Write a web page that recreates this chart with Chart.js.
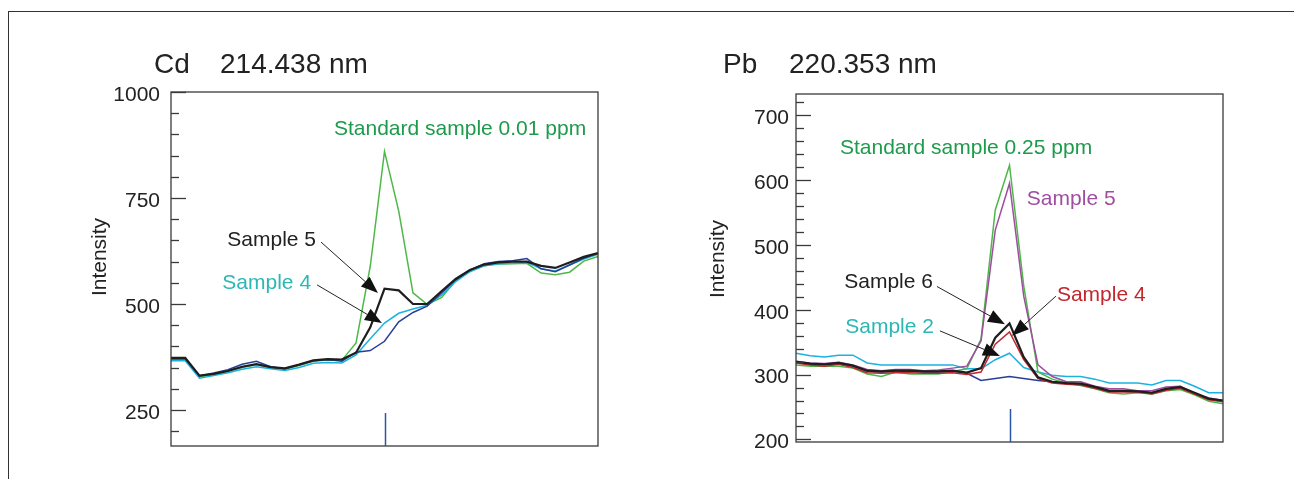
<!DOCTYPE html>
<html>
<head>
<meta charset="utf-8">
<script src="https://cdn.jsdelivr.net/npm/chart.js@4.4.0/dist/chart.umd.min.js"></script>
<style>
  html, body { margin: 0; padding: 0; background: #fff; }
  #page { position: relative; width: 1294px; height: 479px; overflow: hidden; }
  #frame { position: absolute; left: 8px; top: 11px; width: 1300px; height: 480px;
           border-top: 1.5px solid #333; border-left: 1.5px solid #333; }
  canvas { position: absolute; top: 0; }
</style>
</head>
<body>
<div id="page">
  <div id="frame"></div>
  <canvas id="cd" width="647" height="479" style="left:0"></canvas>
  <canvas id="pb" width="647" height="479" style="left:647px"></canvas>
</div>
<script>
// scan points across the wavelength window (peak at the centre, point 16)
const points = ['1','2','3','4','5','6','7','8','9','10','11','12','13','14','15','16',
                '17','18','19','20','21','22','23','24','25','26','27','28','29','30','31'];

// Cd 214.438 nm
const cdStandard = [370, 370, 328, 333, 342, 350, 357, 350, 346, 355, 365, 368, 367, 408, 589, 860,
                    719, 526, 499, 515, 555, 578, 590, 594, 595, 596, 573, 569, 575, 601, 612];
const cdSample5  = [373, 373, 331, 335, 342, 352, 358, 351, 348, 357, 367, 370, 369, 385, 445, 536,
                    532, 500, 500, 530, 559, 580, 593, 598, 600, 600, 590, 585, 598, 611, 620];
const cdSample4  = [366, 366, 325, 331, 338, 346, 352, 347, 343, 350, 360, 362, 361, 380, 418, 455,
                    478, 488, 497, 521, 553, 576, 590, 595, 596, 598, 583, 578, 592, 606, 617];
const cdBlank    = [370, 370, 330, 337, 345, 358, 365, 352, 347, 357, 366, 369, 365, 386, 390, 412,
                    458, 480, 495, 526, 557, 580, 595, 600, 602, 607, 583, 576, 592, 608, 620];

// Pb 220.353 nm
const pbStandard = [315, 313, 313, 313, 310, 301, 297, 304, 301, 301, 301, 305, 309, 355, 554, 623,
                    437, 304, 293, 287, 283, 278, 272, 270, 272, 270, 275, 277, 269, 259, 255];
const pbSample5  = [320, 318, 317, 319, 315, 308, 306, 308, 308, 306, 307, 310, 313, 352, 523, 595,
                    421, 315, 297, 289, 289, 282, 278, 278, 275, 275, 281, 282, 270, 264, 260];
const pbSample6  = [320, 317, 316, 318, 314, 306, 305, 306, 306, 305, 305, 306, 303, 310, 357, 379,
                    327, 296, 289, 287, 286, 281, 275, 275, 274, 272, 278, 281, 272, 263, 260];
const pbSample4  = [318, 315, 313, 316, 311, 303, 302, 303, 303, 302, 302, 303, 300, 304, 347, 366,
                    323, 294, 287, 285, 284, 279, 273, 273, 273, 270, 276, 279, 270, 261, 258];
const pbSample2  = [333, 329, 327, 330, 330, 318, 315, 315, 315, 315, 315, 315, 309, 309, 323, 333,
                    311, 304, 299, 297, 297, 293, 287, 287, 287, 284, 291, 291, 282, 272, 272];
const pbBlank    = [319, 316, 315, 317, 313, 305, 304, 305, 305, 304, 304, 305, 302, 291, 294, 297,
                    294, 291, 289, 287, 285, 280, 275, 275, 275, 272, 278, 280, 271, 262, 259];

const FONT = '"Liberation Sans", Arial, Helvetica, sans-serif';
Chart.defaults.font.family = FONT;

function arrow(ctx, x0, y0, x1, y1) {
  const a = Math.atan2(y1 - y0, x1 - x0);
  const len = 17, half = 6.5;
  const bx = x1 - len * Math.cos(a), by = y1 - len * Math.sin(a);
  ctx.lineWidth = 1;
  ctx.beginPath(); ctx.moveTo(x0, y0); ctx.lineTo(bx, by); ctx.stroke();
  ctx.beginPath();
  ctx.moveTo(x1, y1);
  ctx.lineTo(bx + half * Math.sin(a), by - half * Math.cos(a));
  ctx.lineTo(bx - half * Math.sin(a), by + half * Math.cos(a));
  ctx.closePath(); ctx.fill();
}

// box, inward ticks, centre marker, titles and labels
const decor = {
  id: 'decor',
  afterDatasetsDraw(chart, args, o) {
    const { ctx, chartArea: a, scales: { x, y } } = chart;
    ctx.save();
    ctx.strokeStyle = '#3a3a3a';
    ctx.lineWidth = 1.3;
    ctx.strokeRect(a.left, a.top, a.right - a.left, a.bottom - a.top);

    for (let v = Math.ceil(y.min / o.minor) * o.minor; v <= y.max; v += o.minor) {
      const py = Math.round(y.getPixelForValue(v)) + 0.5;
      const len = v % o.major === 0 ? 15 : 8;
      ctx.beginPath(); ctx.moveTo(a.left, py); ctx.lineTo(a.left + len, py); ctx.stroke();
    }

    const mx = Math.round(x.getPixelForValue(o.marker)) + 0.5;
    ctx.strokeStyle = '#2b55a8';
    ctx.lineWidth = 1.5;
    ctx.beginPath(); ctx.moveTo(mx, a.bottom); ctx.lineTo(mx, a.bottom - 33); ctx.stroke();

    ctx.fillStyle = '#222';
    ctx.font = '28px ' + FONT;
    ctx.textBaseline = 'alphabetic';
    ctx.textAlign = 'left';
    ctx.fillText(o.element, o.titleX[0], 73);
    ctx.fillText(o.line, o.titleX[1], 73);

    ctx.save();
    ctx.font = '21px ' + FONT;
    ctx.textAlign = 'center';
    ctx.textBaseline = 'middle';
    ctx.translate(o.axisTitleX, o.axisTitleY);
    ctx.rotate(-Math.PI / 2);
    ctx.fillText('Intensity', 0, 0);
    ctx.restore();

    ctx.font = '21px ' + FONT;
    ctx.textBaseline = 'middle';
    o.labels.forEach(l => {
      ctx.fillStyle = l.color;
      ctx.textAlign = l.align;
      ctx.fillText(l.text, x.getPixelForValue(l.x), y.getPixelForValue(l.y));
    });

    ctx.strokeStyle = '#222';
    ctx.fillStyle = '#111';
    o.arrows.forEach(r => {
      arrow(ctx, x.getPixelForValue(r[0]), y.getPixelForValue(r[1]),
                 x.getPixelForValue(r[2]), y.getPixelForValue(r[3]));
    });
    ctx.restore();
  }
};

function line(data, color, width) {
  return { data: data, borderColor: color, borderWidth: width, pointRadius: 0, tension: 0, fill: false };
}

function makeChart(id, datasets, yMin, yMax, minor, major, padding, labelPad, deco) {
  return new Chart(document.getElementById(id), {
    type: 'line',
    data: { labels: points, datasets: datasets },
    options: {
      responsive: false,
      animation: false,
      layout: { padding: padding },
      plugins: { legend: { display: false }, tooltip: { enabled: false }, decor: Object.assign({ minor: minor, major: major }, deco) },
      scales: {
        x: { display: false },
        y: {
          min: yMin,
          max: yMax,
          afterFit(scale) { scale.width = 91; },
          border: { display: false },
          grid: { display: false, drawTicks: false },
          ticks: {
            stepSize: minor,
            includeBounds: false,
            autoSkip: false,
            padding: labelPad,
            labelOffset: 3,
            color: '#222',
            font: { size: 21 },
            callback: v => (v % major === 0 ? v : '')
          }
        }
      }
    },
    plugins: [decor]
  });
}

makeChart('cd', [
    line(cdSample5, '#1e1e1e', 2.2),
    line(cdBlank, '#283f98', 1.5),
    line(cdSample4, '#1cb2df', 1.5),
    line(cdStandard, '#4db848', 1.5)
  ], 165, 1000, 50, 250, { left: 80, right: 49, top: 92, bottom: 33 }, 11, {
    marker: 15,
    element: 'Cd', line: '214.438 nm', titleX: [154, 220],
    axisTitleX: 100, axisTitleY: 257,
    labels: [
      { text: 'Standard sample 0.01 ppm', color: '#1d9a4b', x: 11.45, y: 913, align: 'left' },
      { text: 'Sample 5', color: '#222', x: 10.19, y: 651, align: 'right' },
      { text: 'Sample 4', color: '#2bb8b4', x: 9.84, y: 549.5, align: 'right' }
    ],
    arrows: [
      [10.54, 646, 14.54, 526],
      [10.26, 545, 14.82, 455]
    ]
  });

makeChart('pb', [
    line(pbSample6, '#1e1e1e', 2.2),
    line(pbSample4, '#c1272d', 1.5),
    line(pbSample5, '#9e4d9f', 1.5),
    line(pbStandard, '#4db848', 1.5),
    line(pbSample2, '#1cb2df', 1.5),
    line(pbBlank, '#283f98', 1.5)
  ], 196, 733, 20, 100, { left: 58, right: 71, top: 94, bottom: 37 }, 7, {
    marker: 15,
    element: 'Pb', line: '220.353 nm', titleX: [76, 142],
    axisTitleX: 71, axisTitleY: 259,
    labels: [
      { text: 'Standard sample 0.25 ppm', color: '#1d9a4b', x: 3.09, y: 650, align: 'left' },
      { text: 'Sample 5', color: '#9e4d9f', x: 16.22, y: 570, align: 'left' },
      { text: 'Sample 6', color: '#222', x: 9.62, y: 442.5, align: 'right' },
      { text: 'Sample 4', color: '#c1272d', x: 18.33, y: 422.5, align: 'left' },
      { text: 'Sample 2', color: '#2bb8b4', x: 9.69, y: 373, align: 'right' }
    ],
    arrows: [
      [9.9, 436, 14.68, 377.7],
      [18.26, 421, 15.17, 360],
      [10.11, 367.5, 14.33, 328.7]
    ]
  });
</script>
</body>
</html>
